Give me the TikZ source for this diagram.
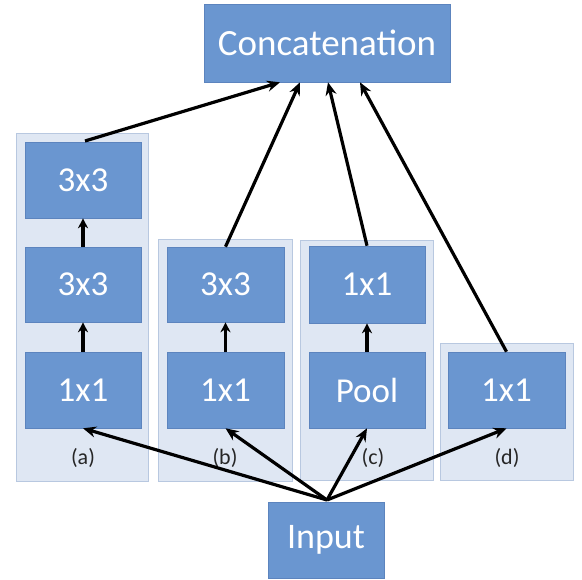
\documentclass[tikz,border=0pt]{standalone}
\usepackage{fontspec}
\setmainfont{Carlito}
\usetikzlibrary{arrows.meta}
\definecolor{boxblue}{RGB}{106,150,208}
\definecolor{panelfill}{RGB}{223,231,243}
\definecolor{paneldraw}{RGB}{184,200,224}
\definecolor{boxline}{RGB}{92,132,190}
\begin{document}
\begin{tikzpicture}[x=1pt,y=-1pt,
  panel/.style={draw=paneldraw,fill=panelfill,line width=0.8pt},
  blk/.style={draw=boxline,fill=boxblue,text=white,line width=0.6pt,inner sep=0pt,font=\fontsize{35}{35}\selectfont},
  lbl/.style={font=\fontsize{22}{22}\selectfont,text=black!85},
  arr/.style={-{Stealth[length=13pt,width=11pt]},line width=3.2pt,black},
  sarr/.style={-{Stealth[length=10pt,width=10pt]},line width=3.2pt,black}]
\useasboundingbox (0,0) rectangle (582,580);
% panels
\path[panel] (16,133) rectangle (148,481);
\path[panel] (158,239) rectangle (292,481);
\path[panel] (300,240) rectangle (433,480);
\path[panel] (440,343) rectangle (573,480);
% main boxes
\node[blk,minimum width=246pt,minimum height=78pt,font=\fontsize{37}{37}\selectfont] (concat) at (327,43) {Concatenation};
\node[blk,minimum width=116pt,minimum height=76pt,font=\fontsize{36}{36}\selectfont] (input) at (326,540) {Input};
% column a
\node[blk,minimum width=116pt,minimum height=76pt] (a3) at (83,180) {3x3};
\node[blk,minimum width=116pt,minimum height=75pt] (a2) at (83,284.5) {3x3};
\node[blk,minimum width=116pt,minimum height=76pt] (a1) at (83,390) {1x1};
\node[lbl] (la) at (83,458) {(a)};
% column b
\node[blk,minimum width=117pt,minimum height=75pt] (b2) at (225.5,284.5) {3x3};
\node[blk,minimum width=117pt,minimum height=76pt] (b1) at (225.5,390) {1x1};
\node[lbl] (lb) at (225,458) {(b)};
% column c
\node[blk,minimum width=116pt,minimum height=77pt] (c2) at (367,284.5) {1x1};
\node[blk,minimum width=116pt,minimum height=76pt] (c1) at (367,390) {Pool};
\node[lbl] (lc) at (373,458) {(c)};
% column d
\node[blk,minimum width=117pt,minimum height=76pt] (d1) at (506.5,390) {1x1};
\node[lbl] (ld) at (507,458) {(d)};
% inner arrows
\draw[sarr] (a1.north) -- (a2.south);
\draw[sarr] (a2.north) -- (a3.south);
\draw[sarr] (b1.north) -- (b2.south);
\draw[sarr] (c1.north) -- (c2.south);
% input arrows
\coordinate (src) at (327,500);
\draw[arr] (src) -- (a1.south);
\draw[arr] (src) -- (b1.south);
\draw[arr] (src) -- (c1.south);
\draw[arr] (src) -- (d1.south);
% output arrows
\draw[arr] (85,141) -- ([xshift=-47pt]concat.south);
\draw[arr] (b2.north) -- ([xshift=-27pt]concat.south);
\draw[arr] (c2.north) -- ([xshift=1pt]concat.south);
\draw[arr] (d1.north) -- ([xshift=33pt]concat.south);
\end{tikzpicture}
\end{document}
